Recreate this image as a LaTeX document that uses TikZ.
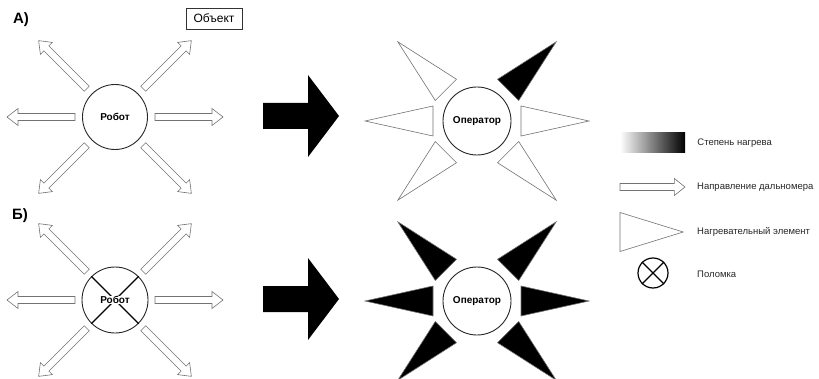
\documentclass[tikz,border=0pt]{standalone}
\usepackage{fontspec}
\setmainfont{Liberation Sans}
\usetikzlibrary{calc, positioning}

\tikzset{
  rangearrow/.pic={
    \draw[draw=black!55, line width=0.6pt, fill=white]
      (0,-3.5) -- (57,-3.5) -- (57,-8.5) -- (68,0) -- (57,8.5) -- (57,3.5) -- (0,3.5) -- cycle;
  },
  heater/.pic={
    \draw[draw=black!55, line width=0.6pt, pic actions] (0,-15) -- (68,0) -- (0,15) -- cycle;
  },
  bigarrow/.pic={
    \fill[black] (0,-13) -- (45,-13) -- (45,-41) -- (76,0) -- (45,41) -- (45,13) -- (0,13) -- cycle;
  },
}

\begin{document}
\begin{tikzpicture}[
    x=1pt, y=1pt,
    unit/.style={circle, draw=black!85, line width=0.9pt, inner sep=0pt,
        font=\fontsize{10}{12}\selectfont\bfseries},
    panel/.style={font=\fontsize{15}{18}\selectfont\bfseries, inner sep=0pt},
    legendtext/.style={anchor=west, inner sep=0pt, text=black!85,
        font=\fontsize{9.5}{11}\selectfont},
    crack/.style={line width=1.4pt, black},
]
\useasboundingbox (0,0) rectangle (819,378);

% ── Panel labels ──
\node[panel] (labA) at (21,358) {А)};
\node[panel] (labB) at (20,162) {Б)};
\node[draw=black!80, line width=0.8pt, minimum width=56pt, minimum height=21pt,
      inner sep=0pt, font=\fontsize{12}{14}\selectfont] (object) at (214,359.5) {Объект};

% ── Robots ──
\node[unit, minimum size=65pt] (robotA) at (115,261) {Робот};
\node[unit, minimum size=66pt] (robotB) at (115,78) {};
\draw[crack] (robotB.45) -- (robotB.225);
\draw[crack] (robotB.135) -- (robotB.315);
\node[fill=white, inner sep=0.6pt, font=\fontsize{10}{12}\selectfont\bfseries] (robotBtext) at (robotB) {Робот};

\foreach \a in {0,45,135,180,225,315} {
  \pic[rotate=\a] at ($(robotA)+(\a:40)$) {rangearrow};
  \pic[rotate=\a] at ($(robotB)+(\a:40)$) {rangearrow};
}

% ── Transition arrows ──
\coordinate (stepA) at (263,262);
\coordinate (stepB) at (263,79);
\pic at (stepA) {bigarrow};
\pic at (stepB) {bigarrow};

% ── Operators ──
\node[unit, minimum size=68pt] (operA) at (477,257) {Оператор};
\node[unit, minimum size=68pt] (operB) at (477,77) {Оператор};

\foreach \a in {0,135,180,225,315}
  \pic[fill=white, rotate=\a] at ($(operA)+(\a:44)$) {heater};
\pic[fill=black, rotate=45] at ($(operA)+(45:44)$) {heater};
\foreach \a in {0,45,135,180,225,315}
  \pic[fill=black, rotate=\a] at ($(operB)+(\a:44)$) {heater};

% ── Legend ──
\node[minimum width=65pt, minimum height=20pt, inner sep=0pt,
      left color=white, right color=black] (heatbar) at (652.5,235) {};
\node[legendtext, right=12pt of heatbar] (heattext) {Степень нагрева};

\coordinate (legarrow) at (620,191);
\pic[xscale=0.955] at (legarrow) {rangearrow};
\node[legendtext] (arrowtext) at (697,191) {Направление дальномера};

\coordinate (legheat) at (620,146);
\pic[fill=white, xscale=0.93, yscale=1.3] at (legheat) {heater};
\node[legendtext] (heatertext) at (697,146) {Нагревательный элемент};

\node[circle, draw=black, line width=1.2pt, minimum size=30pt, inner sep=0pt] (broken) at (653,105) {};
\draw[crack] (broken.45) -- (broken.225);
\draw[crack] (broken.135) -- (broken.315);
\node[legendtext] (brokentext) at (697,104) {Поломка};

\end{tikzpicture}
\end{document}
